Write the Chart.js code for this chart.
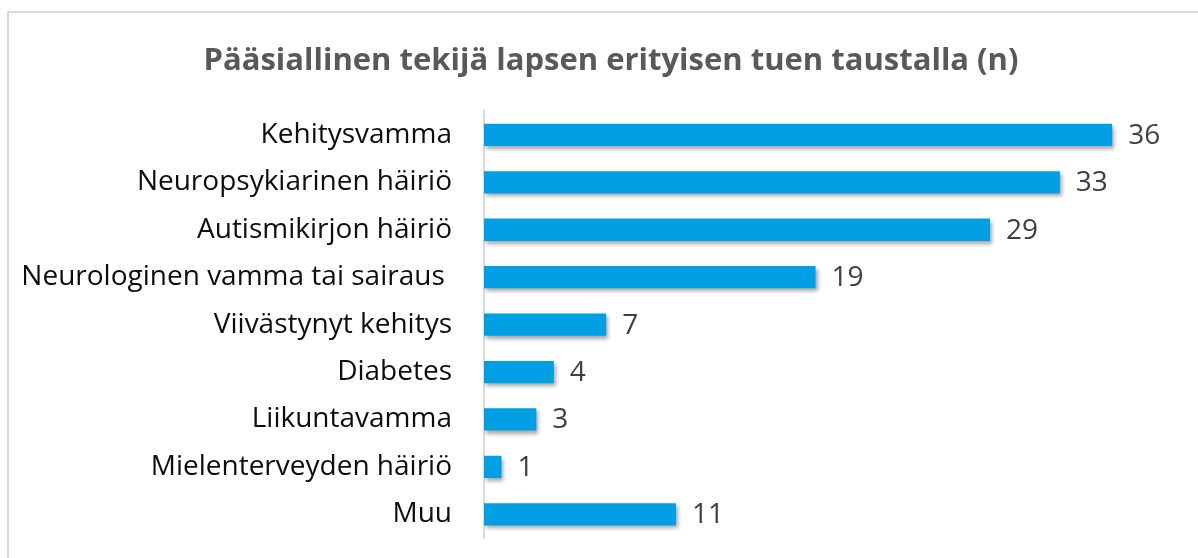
<!DOCTYPE html>
<html>
<head>
<meta charset="utf-8">
<script src="https://cdn.jsdelivr.net/npm/chart.js@4"></script>
<style>
  html, body { margin: 0; padding: 0; background: #fff; overflow: hidden; }
  #frame {
    position: absolute; left: 7px; top: 11px; width: 1189px; height: 545px;
    border-top: 2px solid #d9d9d9; border-left: 2px solid #d9d9d9;
  }
  #wrap { position: absolute; left: 0; top: 0; width: 1198px; height: 558px; }
</style>
</head>
<body>
<div id="frame"></div>
<div id="wrap"><canvas id="myChart"></canvas></div>
<script>
const categories = [
  "Kehitysvamma",
  "Neuropsykiarinen häiriö",
  "Autismikirjon häiriö",
  "Neurologinen vamma tai sairaus ",
  "Viivästynyt kehitys",
  "Diabetes",
  "Liikuntavamma",
  "Mielenterveyden häiriö",
  "Muu",
];
const counts = [36, 33, 29, 19, 7, 4, 3, 1, 11];
const titleText = "Pääsiallinen tekijä lapsen erityisen tuen taustalla (n)";

const FONT = "'Open Sans', sans-serif";

// soft drop shadow under the bars, like the office chart
const barShadow = {
  id: "barShadow",
  beforeDatasetsDraw(chart) {
    const ctx = chart.ctx;
    ctx.save();
    ctx.shadowColor = "rgba(0,0,0,0.35)";
    ctx.shadowBlur = 4;
    ctx.shadowOffsetX = 2;
    ctx.shadowOffsetY = 3;
  },
  afterDatasetsDraw(chart) {
    chart.ctx.restore();
  },
};

// the original title sits a bit right of the canvas centre
const titleNudge = {
  id: "titleNudge",
  afterLayout(chart) {
    if (chart.titleBlock) chart.titleBlock.left = 40;
  },
};

// value at the end of each bar
const valueLabels = {
  id: "valueLabels",
  afterDraw(chart) {
    const ctx = chart.ctx;
    const meta = chart.getDatasetMeta(0);
    ctx.save();
    ctx.font = "28px " + FONT;
    ctx.fillStyle = "#404040";
    ctx.textAlign = "left";
    ctx.textBaseline = "middle";
    meta.data.forEach((bar, i) => {
      ctx.fillText(String(chart.data.datasets[0].data[i]), bar.x + 16, bar.y + 1);
    });
    ctx.restore();
  },
};

new Chart(document.getElementById("myChart"), {
  type: "bar",
  data: {
    labels: categories,
    datasets: [
      {
        data: counts,
        backgroundColor: "#009fe3",
        borderWidth: 0,
        barPercentage: 0.47,
        categoryPercentage: 1,
      },
    ],
  },
  options: {
    indexAxis: "y",
    responsive: true,
    maintainAspectRatio: false,
    animation: false,
    layout: { padding: { left: 0, right: 16, top: 0, bottom: 20 } },
    plugins: {
      legend: { display: false },
      tooltip: { enabled: false },
      title: {
        display: true,
        text: titleText,
        color: "#595959",
        font: { family: FONT, size: 31, weight: "bold" },
        padding: { top: 43, bottom: 31 },
      },
    },
    scales: {
      x: {
        display: false,
        min: 0,
        max: 40,
      },
      y: {
        grid: { display: false, drawTicks: false },
        border: { display: true, color: "#d9d9d9", width: 2 },
        ticks: {
          color: "#0d0d0d",
          padding: 32,
          font: { family: FONT, size: 28 },
        },
        afterFit(scale) {
          scale.width = 484;
          // tick padding should not push the plot area in from top/bottom
          scale.paddingTop = 0;
          scale.paddingBottom = 0;
        },
      },
    },
  },
  plugins: [barShadow, titleNudge, valueLabels],
});
</script>
</body>
</html>
